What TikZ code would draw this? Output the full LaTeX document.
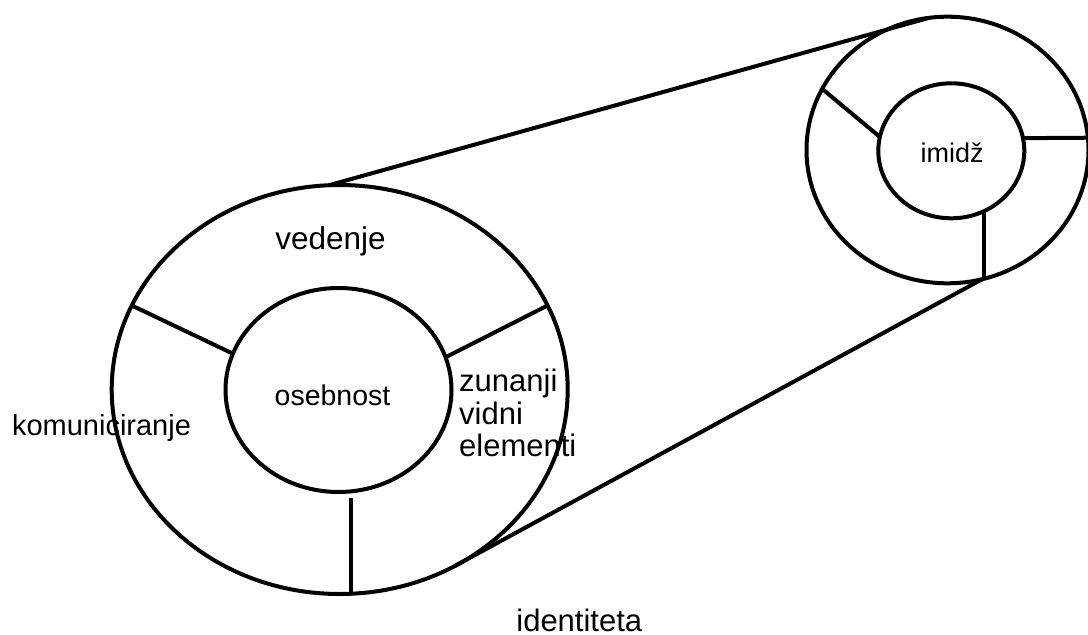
\documentclass[tikz,border=0pt]{standalone}
\usepackage{fontspec}
\setmainfont{Liberation Sans}
\usetikzlibrary{shapes.geometric}
\begin{document}
\begin{tikzpicture}[x=1pt,y=-1pt,
  ring/.style={draw, shape=ellipse, line width=4pt, inner sep=0pt, outer sep=0pt},
  seg/.style={line width=4pt},
  lbl/.style={inner sep=0pt, anchor=base}]
\useasboundingbox (0,0) rectangle (1088,635);
% ellipses
\node[ring, minimum width=456pt, minimum height=409pt] (O1) at (339.7,389.5) {};
\node[ring, minimum width=226pt, minimum height=204pt] (I1) at (338.5,390) {};
\node[ring, minimum width=282pt, minimum height=266.6pt] (O2) at (947.5,150) {};
\node[ring, minimum width=146pt, minimum height=135pt] (I2) at (951.3,150.8) {};
% spokes of the large ring
\draw[seg] (O1.158.06) -- (I1.161.8);
\draw[seg] (O1.22.54) -- (I1.17.35);
\coordinate (b1) at (350.7,498.3);
\draw[seg] (b1) -- (b1 |- O1.273.1);
% spokes of the small ring
\draw[seg] (O2.154.2) -- (I2.169.7);
\draw[seg] (I2.10.9) -- (O2.5.4);
\draw[seg] (I2.298.2) -- (I2.298.2 |- O2.285.7);
% connecting lines
\draw[seg] (O1.93.64) -- (O2.98.87);
\draw[seg] (O2.285.7) -- (O1.303.9);
% labels
\node[lbl, font=\fontsize{31.5}{32.5}\selectfont] (ved) at (330.5,249) {vedenje};
\node[lbl, font=\fontsize{28.5}{30}\selectfont] (oseb) at (332.5,405) {osebnost};
\node[lbl, font=\fontsize{29}{30}\selectfont] (kom) at (101.5,435.7) {komuniciranje};
\node[lbl, anchor=base west, align=left, font=\fontsize{31}{32.5}\selectfont] (zun) at (459,456.7) {zunanji\\vidni\\elementi};
\node[lbl, font=\fontsize{27}{28}\selectfont] (imi) at (952.2,162.5) {imidž};
\node[lbl, font=\fontsize{31}{32}\selectfont] (ide) at (579.3,631.5) {identiteta};
\end{tikzpicture}
\end{document}
